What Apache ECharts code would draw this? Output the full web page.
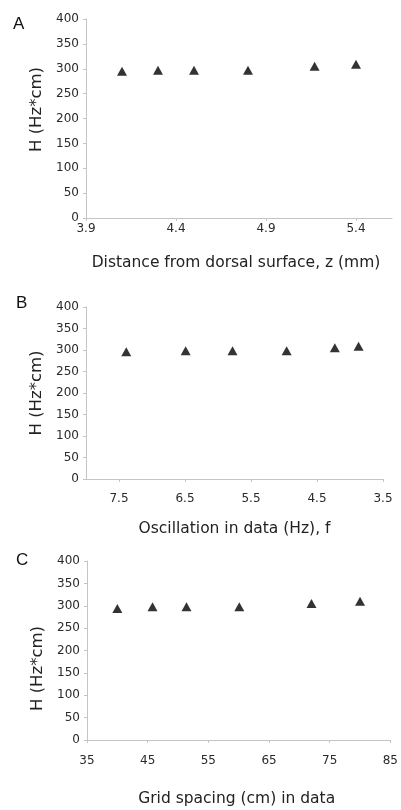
<!DOCTYPE html>
<html><head><meta charset="utf-8">
<script src="https://cdn.jsdelivr.net/npm/echarts@6/dist/echarts.min.js"></script>
<style>html,body{margin:0;padding:0;background:#fff}#c{width:401px;height:810px}</style>
</head><body><div id="c"></div>
<script>
// Panel A: distance from dorsal surface z (mm) vs H
const zValues = [4.1, 4.3, 4.5, 4.8, 5.17, 5.4];
const hA = [295, 297, 297, 297, 305, 309];
// Panel B: oscillation frequency f (Hz) vs H
const fValues = [7.39, 6.49, 5.78, 4.96, 4.23, 3.87];
const hB = [296, 298, 298, 298, 305, 309];
// Panel C: grid spacing (cm) vs H
const spacingValues = [40, 45.8, 51.4, 60.1, 72, 80];
const hC = [294, 298, 298, 298, 305, 310];

const panelLetters = ['A', 'B', 'C'];
const xNames = ['Distance from dorsal surface, z (mm)', 'Oscillation in data (Hz), f', 'Grid spacing (cm) in data'];
const yName = 'H (Hz*cm)';

const font = 'DejaVu Sans, Verdana, sans-serif';
const axisColor = '#c4c4c4';
const textColor = '#2a2a2a';

function pairs(xs, ys) { return xs.map((x, i) => [x, ys[i]]); }

function yAxis(gridIndex, pad) {
  return {
    type: 'value', gridIndex, min: 0, max: 400, interval: 50,
    name: yName, nameLocation: 'middle', nameGap: 32,
    nameTextStyle: { fontFamily: font, fontSize: 16.5, color: '#222', padding: pad },
    axisLine: { show: true, lineStyle: { color: axisColor } },
    axisTick: { show: true, length: 3, lineStyle: { color: axisColor } },
    axisLabel: { fontFamily: font, fontSize: 12, color: textColor, margin: 7 },
    splitLine: { show: false }
  };
}

const option = {
  animation: false,
  backgroundColor: '#fff',
  title: panelLetters.map((t, i) => ({
    text: t, left: [8, 11, 11][i], top: [10.5, 289.5, 546.5][i],
    textStyle: { fontFamily: 'Liberation Sans, Arial, sans-serif', fontSize: 17, fontWeight: 'normal', color: '#111' }
  })),
  grid: [
    { left: 86, right: 9, top: 19, height: 199 },
    { left: 86, right: 18, top: 307, height: 172 },
    { left: 87, right: 8, top: 561, height: 179 }
  ],
  xAxis: [
    {
      type: 'value', gridIndex: 0, min: 3.9, max: 5.6, interval: 0.5,
      name: xNames[0], nameLocation: 'middle', nameGap: 37,
      nameTextStyle: { fontFamily: font, fontSize: 15.5, color: '#222', padding: [0, 0, 0, -6] },
      axisLine: { show: true, lineStyle: { color: axisColor } },
      axisTick: { show: true, length: 3, lineStyle: { color: axisColor } },
      axisLabel: { fontFamily: font, fontSize: 12, color: textColor, margin: 5, showMaxLabel: false },
      splitLine: { show: false }
    },
    {
      type: 'value', gridIndex: 1, min: 3.5, max: 8, interval: 1, inverse: true,
      name: xNames[1], nameLocation: 'middle', nameGap: 42,
      nameTextStyle: { fontFamily: font, fontSize: 15.5, color: '#222' },
      axisLine: { show: true, lineStyle: { color: axisColor } },
      axisTick: { show: true, length: 3, lineStyle: { color: axisColor } },
      axisLabel: { fontFamily: font, fontSize: 12, color: textColor, margin: 14, showMaxLabel: false,
        formatter: v => v.toFixed(1) },
      splitLine: { show: false }
    },
    {
      type: 'value', gridIndex: 2, min: 35, max: 85, interval: 10,
      name: xNames[2], nameLocation: 'middle', nameGap: 51,
      nameTextStyle: { fontFamily: font, fontSize: 15.5, color: '#222', padding: [0, 0, 0, -4] },
      axisLine: { show: true, lineStyle: { color: axisColor } },
      axisTick: { show: true, length: 3, lineStyle: { color: axisColor } },
      axisLabel: { fontFamily: font, fontSize: 12, color: textColor, margin: 15 },
      splitLine: { show: false }
    }
  ],
  yAxis: [yAxis(0, [0, 0, 0, 18]), yAxis(1, 0), yAxis(2, [0, 36, 0, 0])],
  series: [
    { type: 'scatter', xAxisIndex: 0, yAxisIndex: 0, data: pairs(zValues, hA) },
    { type: 'scatter', xAxisIndex: 1, yAxisIndex: 1, data: pairs(fValues, hB) },
    { type: 'scatter', xAxisIndex: 2, yAxisIndex: 2, data: pairs(spacingValues, hC) }
  ].map(s => Object.assign(s, { symbol: 'triangle', symbolSize: [10, 9], itemStyle: { color: '#000' } }))
};

const chart = echarts.init(document.getElementById('c'), null, { renderer: 'canvas' });
chart.setOption(option);
</script>
</body></html>
